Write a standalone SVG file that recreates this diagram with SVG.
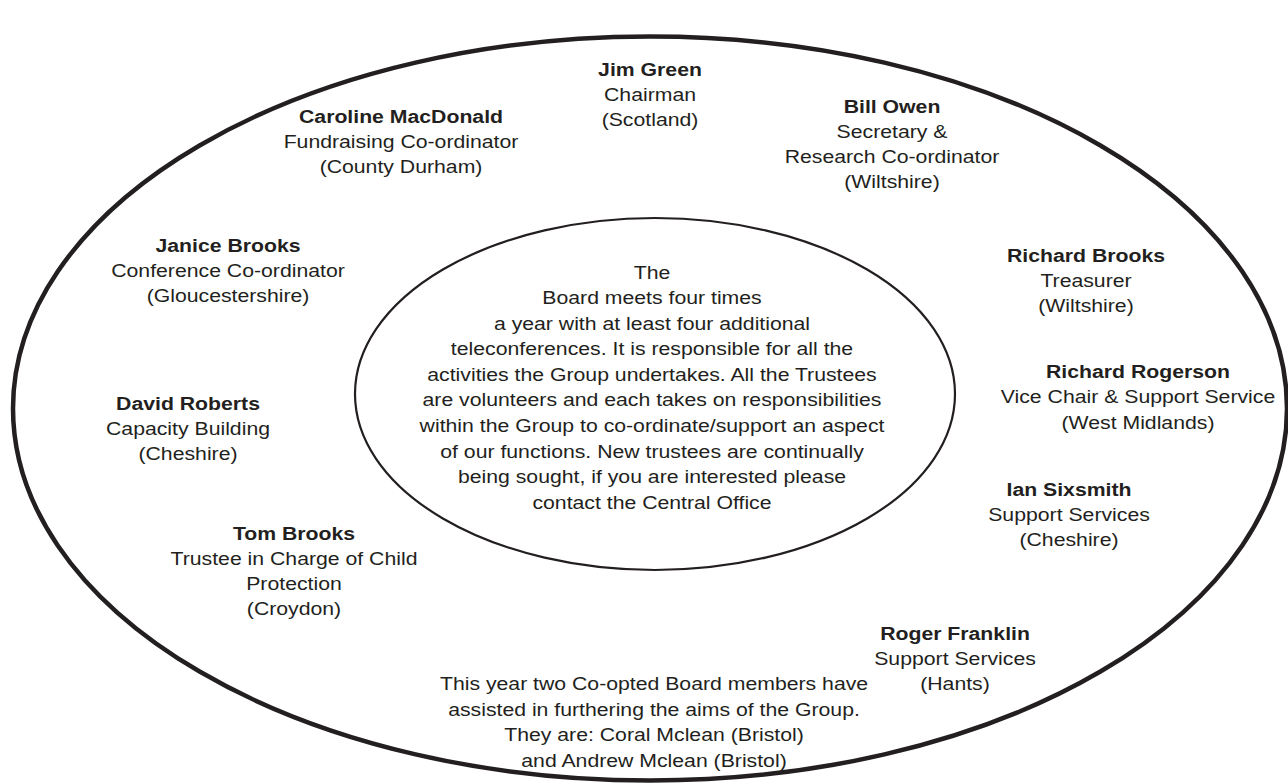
<svg xmlns="http://www.w3.org/2000/svg" width="1288" height="784" viewBox="0 0 1288 784">
<style>
.t{font-family:"Liberation Sans",Arial,Helvetica,sans-serif;font-size:18.7px;fill:#231f20;text-anchor:middle}
.b{font-weight:bold}
.ring{fill:none;stroke:#231f20}
</style>
<rect width="1288" height="784" fill="#ffffff"/>
<g id="outer-ring"><ellipse class="ring" cx="650" cy="408.5" rx="637" ry="372" stroke-width="4.5"/></g>
<g id="connectors"></g>
<g id="board">
<ellipse class="ring" cx="655" cy="394" rx="300" ry="176" stroke-width="2.2"/>
<text class="t" transform="translate(652,278.5) scale(1.135,1)"><tspan x="0" y="0">The</tspan><tspan x="0" dy="25.6">Board meets four times</tspan><tspan x="0" dy="25.6">a year with at least four additional</tspan><tspan x="0" dy="25.6">teleconferences. It is responsible for all the</tspan><tspan x="0" dy="25.6">activities the Group undertakes. All the Trustees</tspan><tspan x="0" dy="25.6">are volunteers and each takes on responsibilities</tspan><tspan x="0" dy="25.6">within the Group to co-ordinate/support an aspect</tspan><tspan x="0" dy="25.6">of our functions.  New trustees are continually</tspan><tspan x="0" dy="25.6">being sought, if you are interested please</tspan><tspan x="0" dy="25.6">contact the Central Office</tspan></text>
</g>
<g id="jim-green"><text class="t" transform="translate(650,76) scale(1.135,1)"><tspan class="b" x="0" y="0">Jim Green</tspan><tspan x="0" dy="25">Chairman</tspan><tspan x="0" dy="25">(Scotland)</tspan></text></g>
<g id="caroline-macdonald"><text class="t" transform="translate(401,123) scale(1.135,1)"><tspan class="b" x="0" y="0">Caroline MacDonald</tspan><tspan x="0" dy="25">Fundraising Co-ordinator</tspan><tspan x="0" dy="25">(County Durham)</tspan></text></g>
<g id="bill-owen"><text class="t" transform="translate(892,113) scale(1.135,1)"><tspan class="b" x="0" y="0">Bill Owen</tspan><tspan x="0" dy="25">Secretary &amp;</tspan><tspan x="0" dy="25">Research Co-ordinator</tspan><tspan x="0" dy="25">(Wiltshire)</tspan></text></g>
<g id="janice-brooks"><text class="t" transform="translate(228,252) scale(1.135,1)"><tspan class="b" x="0" y="0">Janice Brooks</tspan><tspan x="0" dy="25">Conference Co-ordinator</tspan><tspan x="0" dy="25">(Gloucestershire)</tspan></text></g>
<g id="richard-brooks"><text class="t" transform="translate(1086,262) scale(1.135,1)"><tspan class="b" x="0" y="0">Richard Brooks</tspan><tspan x="0" dy="25">Treasurer</tspan><tspan x="0" dy="25">(Wiltshire)</tspan></text></g>
<g id="richard-rogerson"><text class="t" transform="translate(1138,378) scale(1.135,1)"><tspan class="b" x="0" y="0">Richard Rogerson</tspan><tspan x="0" dy="25.3">Vice Chair &amp; Support Service</tspan><tspan x="0" dy="25.3">(West Midlands)</tspan></text></g>
<g id="david-roberts"><text class="t" transform="translate(188,410) scale(1.135,1)"><tspan class="b" x="0" y="0">David Roberts</tspan><tspan x="0" dy="25">Capacity Building</tspan><tspan x="0" dy="25">(Cheshire)</tspan></text></g>
<g id="ian-sixsmith"><text class="t" transform="translate(1069,496) scale(1.135,1)"><tspan class="b" x="0" y="0">Ian Sixsmith</tspan><tspan x="0" dy="25">Support Services</tspan><tspan x="0" dy="25">(Cheshire)</tspan></text></g>
<g id="tom-brooks"><text class="t" transform="translate(294,540) scale(1.135,1)"><tspan class="b" x="0" y="0">Tom Brooks</tspan><tspan x="0" dy="25">Trustee in Charge of Child</tspan><tspan x="0" dy="25">Protection</tspan><tspan x="0" dy="25">(Croydon)</tspan></text></g>
<g id="roger-franklin"><text class="t" transform="translate(955,640) scale(1.135,1)"><tspan class="b" x="0" y="0">Roger Franklin</tspan><tspan x="0" dy="25">Support Services</tspan><tspan x="0" dy="25">(Hants)</tspan></text></g>
<g id="co-opted"><text class="t" transform="translate(654,690) scale(1.135,1)"><tspan x="0" y="0">This year two Co-opted Board members have</tspan><tspan x="0" dy="25.6">assisted in furthering the aims of the Group.</tspan><tspan x="0" dy="25.6">They are: Coral Mclean (Bristol)</tspan><tspan x="0" dy="25.6">and Andrew Mclean (Bristol)</tspan></text></g>
</svg>
